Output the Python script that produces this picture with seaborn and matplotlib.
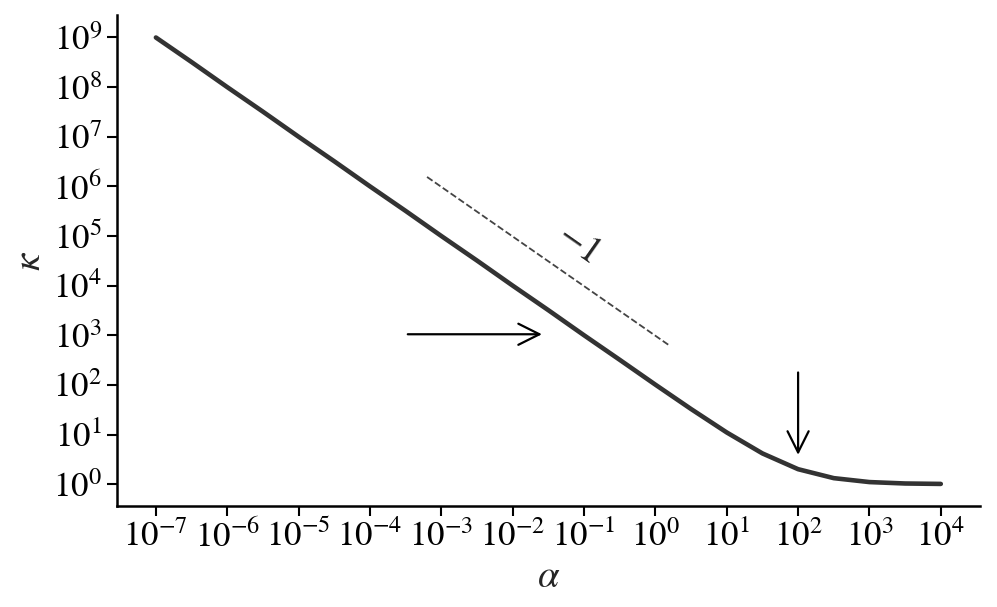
import numpy as np
import pandas as pd
import matplotlib
matplotlib.use('Agg')
import matplotlib.pyplot as plt
import matplotlib.ticker as mticker
import seaborn as sns

# data (half-decade steps)
alpha_exp = [-7, -6.5, -6, -5.5, -5, -4.5, -4, -3.5, -3, -2.5, -2, -1.5, -1, -0.5,
             0, 0.5, 1, 1.5, 2, 2.5, 3, 3.5, 4]
kappa = [1.0e9, 3.2e8, 1.0e8, 3.2e7, 1.0e7, 3.2e6, 1.0e6, 3.2e5, 1.0e5, 3.2e4,
         1.0e4, 3.2e3, 1.0e3, 3.2e2, 101, 32.6, 11.0, 4.16, 2.0, 1.32, 1.1, 1.03, 1.01]
alpha = [10.0 ** e for e in alpha_exp]

# tick decades
xtick_exp = list(range(-7, 5))
ytick_exp = list(range(0, 10))

# slope guide and annotations
guide_alpha = [10 ** -3.2, 10 ** 0.2]
guide_kappa = [10 ** 6.19, 10 ** 2.79]
slope_label = '$-1$'

df = pd.DataFrame({'alpha': alpha, 'kappa': kappa})

sns.set_style('ticks')
plt.rcParams['font.family'] = ['STIXGeneral', 'DejaVu Serif']
plt.rcParams['mathtext.fontset'] = 'stix'

fig = plt.figure(figsize=(9.97, 6.07), dpi=100)
ax = fig.add_axes([0.117, 0.166, 0.866, 0.809])

sns.lineplot(x='alpha', y='kappa', data=df, ax=ax, color='#333333', linewidth=3.3)
ax.plot(guide_alpha, guide_kappa, '--', color='#444444', linewidth=1.3)

ax.set_xscale('log')
ax.set_yscale('log')
ax.set_xticks([10.0 ** e for e in xtick_exp])
ax.set_yticks([10.0 ** e for e in ytick_exp])
ax.set_xticklabels([r'$10^{%d}$' % e for e in xtick_exp])
ax.set_yticklabels([r'$10^{%d}$' % e for e in ytick_exp])
ax.xaxis.set_minor_locator(mticker.NullLocator())
ax.yaxis.set_minor_locator(mticker.NullLocator())

ax.text(10 ** -1.08, 10 ** 4.84, slope_label, rotation=-35, fontsize=27,
        ha='center', va='center')

ax.annotate('', xy=(10 ** -1.59, 10 ** 3.02), xytext=(10 ** -3.47, 10 ** 3.02),
            arrowprops=dict(arrowstyle='->', color='black', lw=1.6, mutation_scale=38,
                            shrinkA=0, shrinkB=0))
ax.annotate('', xy=(10 ** 2, 10 ** 0.59), xytext=(10 ** 2, 10 ** 2.25),
            arrowprops=dict(arrowstyle='->', color='black', lw=1.6, mutation_scale=38,
                            shrinkA=0, shrinkB=0))

ax.set_xlabel(r'$\alpha$', fontsize=28)
ax.set_ylabel(r'$\kappa$', fontsize=28)
ax.tick_params(axis='both', labelsize=25, length=7, width=1.5, colors='black')
for s in ['left', 'bottom']:
    ax.spines[s].set_linewidth(1.8)
    ax.spines[s].set_color('black')
sns.despine(ax=ax)

fig.savefig('out.png', dpi=100)
